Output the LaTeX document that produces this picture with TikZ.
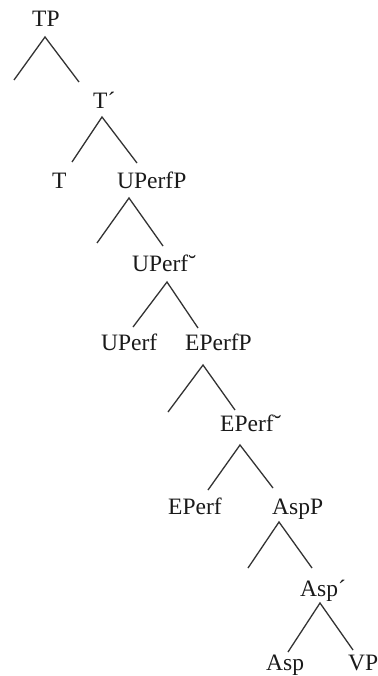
\documentclass[tikz,border=0pt]{standalone}
\usepackage{fontspec}
\setmainfont{Liberation Serif}
\definecolor{ink}{HTML}{1A1A1A}
\definecolor{branch}{HTML}{333333}
\begin{document}
\begin{tikzpicture}[x=1pt,y=-1pt,
  lab/.style={anchor=base west,inner sep=0pt,text=ink,font=\fontsize{23.5}{23.5}\selectfont},
  br/.style={draw=branch,line width=1.3pt}]
\useasboundingbox[fill=white] (0,0) rectangle (377,676);
% labels
\node[lab] (TP) at (32,27) {TP};
\node[lab] (Tbar) at (93,109) {T´};
\node[lab] (T) at (52,189) {T};
\node[lab] (UPerfP) at (117,189) {UPerfP};
\node[lab] (UPerfbar) at (132,271) {UPerf˘};
\node[lab] (UPerf) at (101,350) {UPerf};
\node[lab] (EPerfP) at (185,350) {EPerfP};
\node[lab] (EPerfbar) at (220,431) {EPerf˘};
\node[lab] (EPerf) at (168,514) {EPerf};
\node[lab] (AspP) at (272,514) {AspP};
\node[lab] (Aspbar) at (300,596) {Asp´};
\node[lab] (Asp) at (266,670) {Asp};
\node[lab] (VP) at (348,670) {VP};
% branch points
\coordinate (aTP) at (45,37);   \coordinate (lTP) at (14,80);   \coordinate (rTP) at (79,82);
\coordinate (aTb) at (102,117); \coordinate (lTb) at (72,162);  \coordinate (rTb) at (137,163);
\coordinate (aUP) at (129,198); \coordinate (lUP) at (97,243);  \coordinate (rUP) at (163,246);
\coordinate (aUb) at (167,282); \coordinate (lUb) at (133,327); \coordinate (rUb) at (198,328);
\coordinate (aEP) at (203,365); \coordinate (lEP) at (168,412); \coordinate (rEP) at (235,410);
\coordinate (aEb) at (240,445); \coordinate (lEb) at (208,490); \coordinate (rEb) at (273,488);
\coordinate (aAP) at (279,522); \coordinate (lAP) at (248,568); \coordinate (rAP) at (312,568);
\coordinate (aAb) at (320,603); \coordinate (lAb) at (288,652); \coordinate (rAb) at (353,650);
% branches
\draw[br] (lTP) -- (aTP) -- (rTP);
\draw[br] (lTb) -- (aTb) -- (rTb);
\draw[br] (lUP) -- (aUP) -- (rUP);
\draw[br] (lUb) -- (aUb) -- (rUb);
\draw[br] (lEP) -- (aEP) -- (rEP);
\draw[br] (lEb) -- (aEb) -- (rEb);
\draw[br] (lAP) -- (aAP) -- (rAP);
\draw[br] (lAb) -- (aAb) -- (rAb);
\end{tikzpicture}
\end{document}
